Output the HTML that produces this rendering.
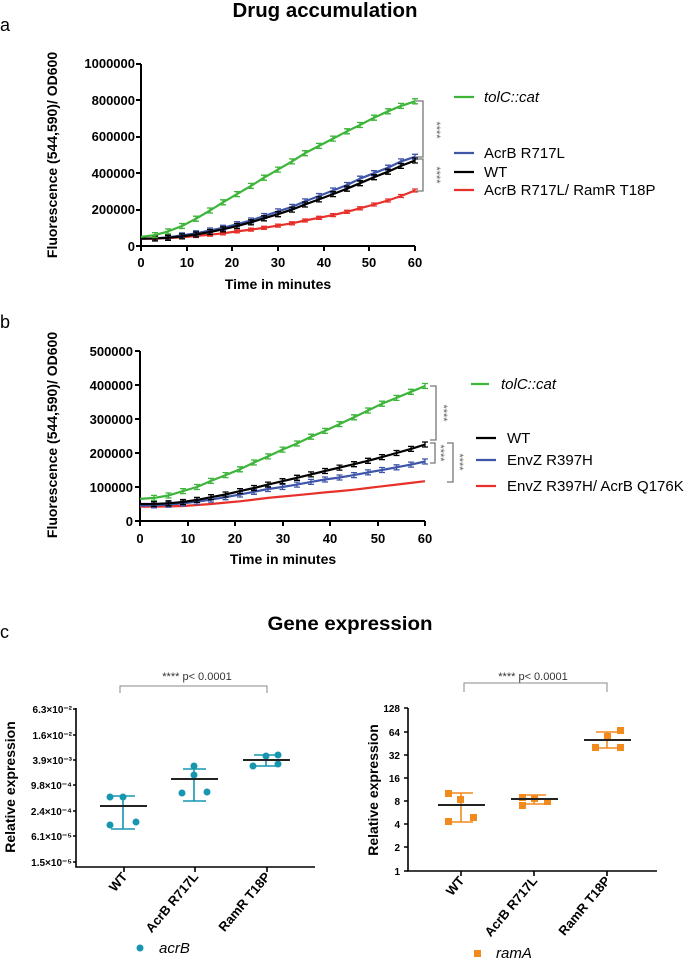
<!DOCTYPE html>
<html><head><style>
body{margin:0;background:#fff}
svg{display:block}
text{font-family:"Liberation Sans",sans-serif}
.b{font-weight:bold}
</style></head><body>
<svg width="685" height="959" viewBox="0 0 685 959" xmlns="http://www.w3.org/2000/svg">
<defs>
<marker id="mg" markerUnits="userSpaceOnUse" markerWidth="8" markerHeight="8" refX="4" refY="4" orient="0"><path d="M1,1.5h6M1,6.5h6M4,1.5v5" stroke="#3db53a" stroke-width="1.3" fill="none"/></marker>
<marker id="mb" markerUnits="userSpaceOnUse" markerWidth="8" markerHeight="8" refX="4" refY="4" orient="0"><path d="M1,1.5h6M1,6.5h6M4,1.5v5" stroke="#3e55a8" stroke-width="1.3" fill="none"/></marker>
<marker id="mk" markerUnits="userSpaceOnUse" markerWidth="8" markerHeight="8" refX="4" refY="4" orient="0"><path d="M1,1.5h6M1,6.5h6M4,1.5v5" stroke="#000" stroke-width="1.3" fill="none"/></marker>
<marker id="mr" markerUnits="userSpaceOnUse" markerWidth="8" markerHeight="8" refX="4" refY="4" orient="0"><path d="M1,2.5h6M1,5.5h6M4,2.5v3" stroke="#e8302a" stroke-width="1.3" fill="none"/></marker>
</defs>
<!-- Panel a -->
<text x="325" y="17" text-anchor="middle" class="b" font-size="20" textLength="185" lengthAdjust="spacingAndGlyphs">Drug accumulation</text>
<text x="0" y="31" font-size="18">a</text>
<g font-size="13" class="b" text-anchor="end">
<text x="135" y="68">1000000</text><text x="135" y="105">800000</text><text x="135" y="141">600000</text><text x="135" y="178">400000</text><text x="135" y="214">200000</text><text x="135" y="251">0</text>
</g>
<g font-size="13" class="b" text-anchor="middle">
<text x="141" y="267">0</text><text x="187" y="267">10</text><text x="232" y="267">20</text><text x="278" y="267">30</text><text x="324" y="267">40</text><text x="369" y="267">50</text><text x="415" y="267">60</text>
</g>
<text x="278" y="289" text-anchor="middle" class="b" font-size="14">Time in minutes</text>
<text transform="translate(57,155) rotate(-90)" text-anchor="middle" class="b" font-size="14">Fluorescence (544,590)/ OD600</text>
<g stroke="#000" stroke-width="2" fill="none">
<path d="M141,64V246H415"/>
<path d="M136,64h5M136,100h5M136,137h5M136,173h5M136,210h5M136,246h5"/>
<path d="M141,246v5M187,246v5M232,246v5M278,246v5M324,246v5M369,246v5M415,246v5"/>
</g>
<g fill="none" stroke-width="2.2" stroke-linejoin="round">
<path stroke="#e8302a" marker-mid="url(#mr)" marker-end="url(#mr)" d="M141,238.7L155,238.5L168,238L182,237.3L196,236L210,234.7L223,233.3L237,231.4L251,229.6L264,227.8L278,225.6L292,223.3L305,220.5L319,217.8L333,215.1L347,211.8L360,208.3L374,204.5L388,200.5L401,196L415,190.5"/>
<path stroke="#3e55a8" marker-mid="url(#mb)" marker-end="url(#mb)" d="M141,238.7L155,238.4L168,237.3L182,235.4L196,233.3L210,230.5L223,227.8L237,224.2L251,220.5L264,216L278,211.4L292,206.9L305,201.4L319,196L333,190.5L347,185L360,178.7L374,173.2L388,167.7L401,161.4L415,156.8"/>
<path stroke="#000" marker-mid="url(#mk)" marker-end="url(#mk)" d="M141,238.7L155,238.5L168,237.8L182,236.4L196,234.5L210,232L223,229.3L237,226L251,222.3L264,218.3L278,214.2L292,209.6L305,204.5L319,199.4L333,194.1L347,188.7L360,183.2L374,177.2L388,171.7L401,165.9L415,160.5"/>
<path stroke="#3db53a" marker-mid="url(#mg)" marker-end="url(#mg)" d="M141,236.9L155,235.1L168,231.4L182,226L196,218.7L210,210.5L223,202.3L237,194.1L251,185.9L264,177.7L278,169.6L292,161.4L305,153.2L319,145.9L333,138.6L347,131.3L360,125L374,117.7L388,111.3L401,105.9L415,101.3"/>
</g>
<path d="M454,97h20" stroke="#3db53a" stroke-width="2.2"/>
<path d="M454,153h20" stroke="#3e55a8" stroke-width="2.2"/>
<path d="M454,172h20" stroke="#000" stroke-width="2.2"/>
<path d="M454,190h20" stroke="#e8302a" stroke-width="2.2"/>
<g font-size="15">
<text x="484" y="102" font-style="italic">tolC::cat</text>
<text x="484" y="158">AcrB R717L</text>
<text x="484" y="177">WT</text>
<text x="484" y="195">AcrB R717L/ RamR T18P</text>
</g>
<g stroke="#777" stroke-width="1.3" fill="none">
<path d="M416,101h7V157h-7M416,159h7V191h-7"/>
</g>
<g fill="#666" font-size="11">
<text transform="translate(433,130) rotate(90)" text-anchor="middle">****</text>
<text transform="translate(433,175) rotate(90)" text-anchor="middle">****</text>
</g>

<!-- Panel b -->
<text x="0" y="328" font-size="18">b</text>
<g font-size="13" class="b" text-anchor="end">
<text x="133" y="356">500000</text><text x="133" y="390">400000</text><text x="133" y="424">300000</text><text x="133" y="458">200000</text><text x="133" y="492">100000</text><text x="133" y="526">0</text>
</g>
<g font-size="13" class="b" text-anchor="middle">
<text x="140" y="543">0</text><text x="188" y="543">10</text><text x="235" y="543">20</text><text x="283" y="543">30</text><text x="330" y="543">40</text><text x="378" y="543">50</text><text x="425" y="543">60</text>
</g>
<text x="283" y="564" text-anchor="middle" class="b" font-size="14">Time in minutes</text>
<text transform="translate(57,435) rotate(-90)" text-anchor="middle" class="b" font-size="14">Fluorescence (544,590)/ OD600</text>
<g stroke="#000" stroke-width="2" fill="none">
<path d="M140,351V521H425"/>
<path d="M135,351h5M135,385h5M135,419h5M135,453h5M135,487h5M135,521h5"/>
<path d="M140,521v5M188,521v5M235,521v5M283,521v5M330,521v5M378,521v5M425,521v5"/>
</g>
<g fill="none" stroke-width="2.2" stroke-linejoin="round">
<path stroke="#e8302a" d="M140,506.7L154,506.7L168.5,506.4L183,506L197,505L211,504L225.5,502.6L240,501.3L254,499.6L268,497.9L282.5,496.5L297,495.2L311,493.8L325,492.4L339.5,491.1L354,489.7L368,488L382,486.3L396.5,484.6L411,482.9L425,481.2"/>
<path stroke="#3e55a8" marker-mid="url(#mb)" marker-end="url(#mb)" d="M140,505.7L154,505.4L168.5,504.7L183,503.3L197,501.6L211,499.6L225.5,497.2L240,494.5L254,491.8L268,489L282.5,487L297,484.6L311,481.9L325,479.5L339.5,477.5L354,475.1L368,472.4L382,470L396.5,467.3L411,464.6L425,461.5"/>
<path stroke="#000" marker-mid="url(#mk)" marker-end="url(#mk)" d="M140,504L154,504L168.5,503.3L183,502L197,499.9L211,497.2L225.5,494.5L240,491.1L254,488L268,484.6L282.5,481.2L297,477.8L311,474.4L325,471L339.5,467.6L354,464.2L368,460.8L382,457.1L396.5,453L411,448.9L425,444.5"/>
<path stroke="#3db53a" marker-mid="url(#mg)" marker-end="url(#mg)" d="M140,498.9L154,497.9L168.5,495.5L183,491.1L197,487L211,480.9L225.5,475.1L240,469.3L254,462.5L268,456.4L282.5,449.6L297,443.5L311,436.7L325,430.9L339.5,424.1L354,417.3L368,410.5L382,403.7L396.5,397.9L411,391.8L425,386"/>
</g>
<path d="M471,384h18" stroke="#3db53a" stroke-width="2.2"/>
<path d="M476,438h20" stroke="#000" stroke-width="2.2"/>
<path d="M476,460h20" stroke="#3e55a8" stroke-width="2.2"/>
<path d="M476,486h20" stroke="#e8302a" stroke-width="2.2"/>
<g font-size="15">
<text x="501" y="389" font-style="italic">tolC::cat</text>
<text x="507" y="443">WT</text>
<text x="507" y="465">EnvZ R397H</text>
<text x="507" y="491">EnvZ R397H/ AcrB Q176K</text>
</g>
<g stroke="#777" stroke-width="1.3" fill="none">
<path d="M430,386h6V440h-6M430,443h5V463h-5M447,443h6V482h-6"/>
</g>
<g fill="#666" font-size="11">
<text transform="translate(440,413) rotate(90)" text-anchor="middle">****</text>
<text transform="translate(437,453) rotate(90)" text-anchor="middle">****</text>
<text transform="translate(456,462) rotate(90)" text-anchor="middle">****</text>
</g>

<!-- Panel c -->
<text x="350" y="630" text-anchor="middle" class="b" font-size="19" textLength="165" lengthAdjust="spacingAndGlyphs">Gene expression</text>
<text x="0" y="638" font-size="18">c</text>

<g font-size="10" class="b" text-anchor="end">
<text x="72" y="713">6.3×10⁻²</text><text x="72" y="739">1.6×10⁻²</text><text x="72" y="764">3.9×10⁻³</text><text x="72" y="789">9.8×10⁻⁴</text><text x="72" y="815">2.4×10⁻⁴</text><text x="72" y="840">6.1×10⁻⁵</text><text x="72" y="866">1.5×10⁻⁵</text>
</g>
<text transform="translate(15,787) rotate(-90)" text-anchor="middle" class="b" font-size="14">Relative expression</text>
<g stroke="#000" stroke-width="1.6" fill="none">
<path d="M76,708V867H315"/>
<path d="M73,709h3M73,735h3M73,760h3M73,785h3M73,811h3M73,836h3M73,862h3"/>
<path d="M124,867v5M195,867v5M267,867v5"/>
</g>
<g font-size="13" class="b" text-anchor="end">
<text transform="translate(128,877) rotate(-50)">WT</text>
<text transform="translate(199,877) rotate(-50)">AcrB R717L</text>
<text transform="translate(271,877) rotate(-50)">RamR T18P</text>
</g>
<path d="M120,693v-7H267v7" stroke="#888" stroke-width="1" fill="none"/>
<text x="197" y="680" text-anchor="middle" font-size="11" fill="#333">**** p&lt; 0.0001</text>
<g stroke="#1796b0" stroke-width="1.6" fill="none">
<path d="M123,796V829M111,796h24M111,829h24"/>
<path d="M194,769V801M183,769h23M183,801h23"/>
<path d="M266,755V766M254,755h24M254,766h24"/>
</g>
<g fill="#1796b0">
<circle cx="110" cy="797" r="3.5"/><circle cx="123" cy="797" r="3.5"/><circle cx="110" cy="825" r="3.5"/><circle cx="136" cy="822" r="3.5"/>
<circle cx="194" cy="766" r="3.5"/><circle cx="194" cy="775" r="3.5"/><circle cx="182" cy="793" r="3.5"/><circle cx="207" cy="792" r="3.5"/>
<circle cx="253" cy="766" r="3.5"/><circle cx="266" cy="756" r="3.5"/><circle cx="278" cy="755" r="3.5"/><circle cx="278" cy="764" r="3.5"/>
<circle cx="140" cy="948" r="3.5"/>
</g>
<g stroke="#222" stroke-width="2">
<path d="M100,806h47M171,779h47M243,760h47"/>
</g>
<text x="159" y="953" font-size="15" font-style="italic">acrB</text>

<g font-size="10" class="b" text-anchor="end">
<text x="400" y="712">128</text><text x="400" y="736">64</text><text x="400" y="759">32</text><text x="400" y="782">16</text><text x="400" y="805">8</text><text x="400" y="828">4</text><text x="400" y="851">2</text><text x="400" y="875">1</text>
</g>
<text transform="translate(378,790) rotate(-90)" text-anchor="middle" class="b" font-size="14">Relative expression</text>
<g stroke="#000" stroke-width="1.6" fill="none">
<path d="M408,708V871H657"/>
<path d="M404,708h4M404,732h4M404,755h4M404,778h4M404,801h4M404,824h4M404,847h4M404,871h4"/>
<path d="M461,871v5M534,871v5M607,871v5"/>
</g>
<g font-size="13" class="b" text-anchor="end">
<text transform="translate(465,881) rotate(-50)">WT</text>
<text transform="translate(538,881) rotate(-50)">AcrB R717L</text>
<text transform="translate(611,881) rotate(-50)">RamR T18P</text>
</g>
<path d="M464,692v-9H607v9" stroke="#888" stroke-width="1" fill="none"/>
<text x="533" y="680" text-anchor="middle" font-size="11" fill="#333">**** p&lt; 0.0001</text>
<g stroke="#f28a1e" stroke-width="1.6" fill="none">
<path d="M461,793V822M450,793h23M450,822h23"/>
<path d="M534,795V804M523,795h23M523,804h23"/>
<path d="M607,732V748M596,732h23M596,748h23"/>
</g>
<g fill="#f28a1e">
<rect x="445" y="790" width="7" height="7"/><rect x="457" y="796" width="7" height="7"/><rect x="445" y="818" width="7" height="7"/><rect x="470" y="814" width="7" height="7"/>
<rect x="519" y="794" width="7" height="7"/><rect x="531" y="795" width="7" height="7"/><rect x="544" y="798" width="7" height="7"/><rect x="519" y="802" width="7" height="7"/>
<rect x="592" y="744" width="7" height="7"/><rect x="604" y="733" width="7" height="7"/><rect x="617" y="727" width="7" height="7"/><rect x="617" y="744" width="7" height="7"/>
<rect x="474" y="950" width="7" height="7"/>
</g>
<g stroke="#222" stroke-width="2">
<path d="M438,805h47M511,799h47M584,740h47"/>
</g>
<text x="496" y="958" font-size="15" font-style="italic">ramA</text>
</svg>
</body></html>
